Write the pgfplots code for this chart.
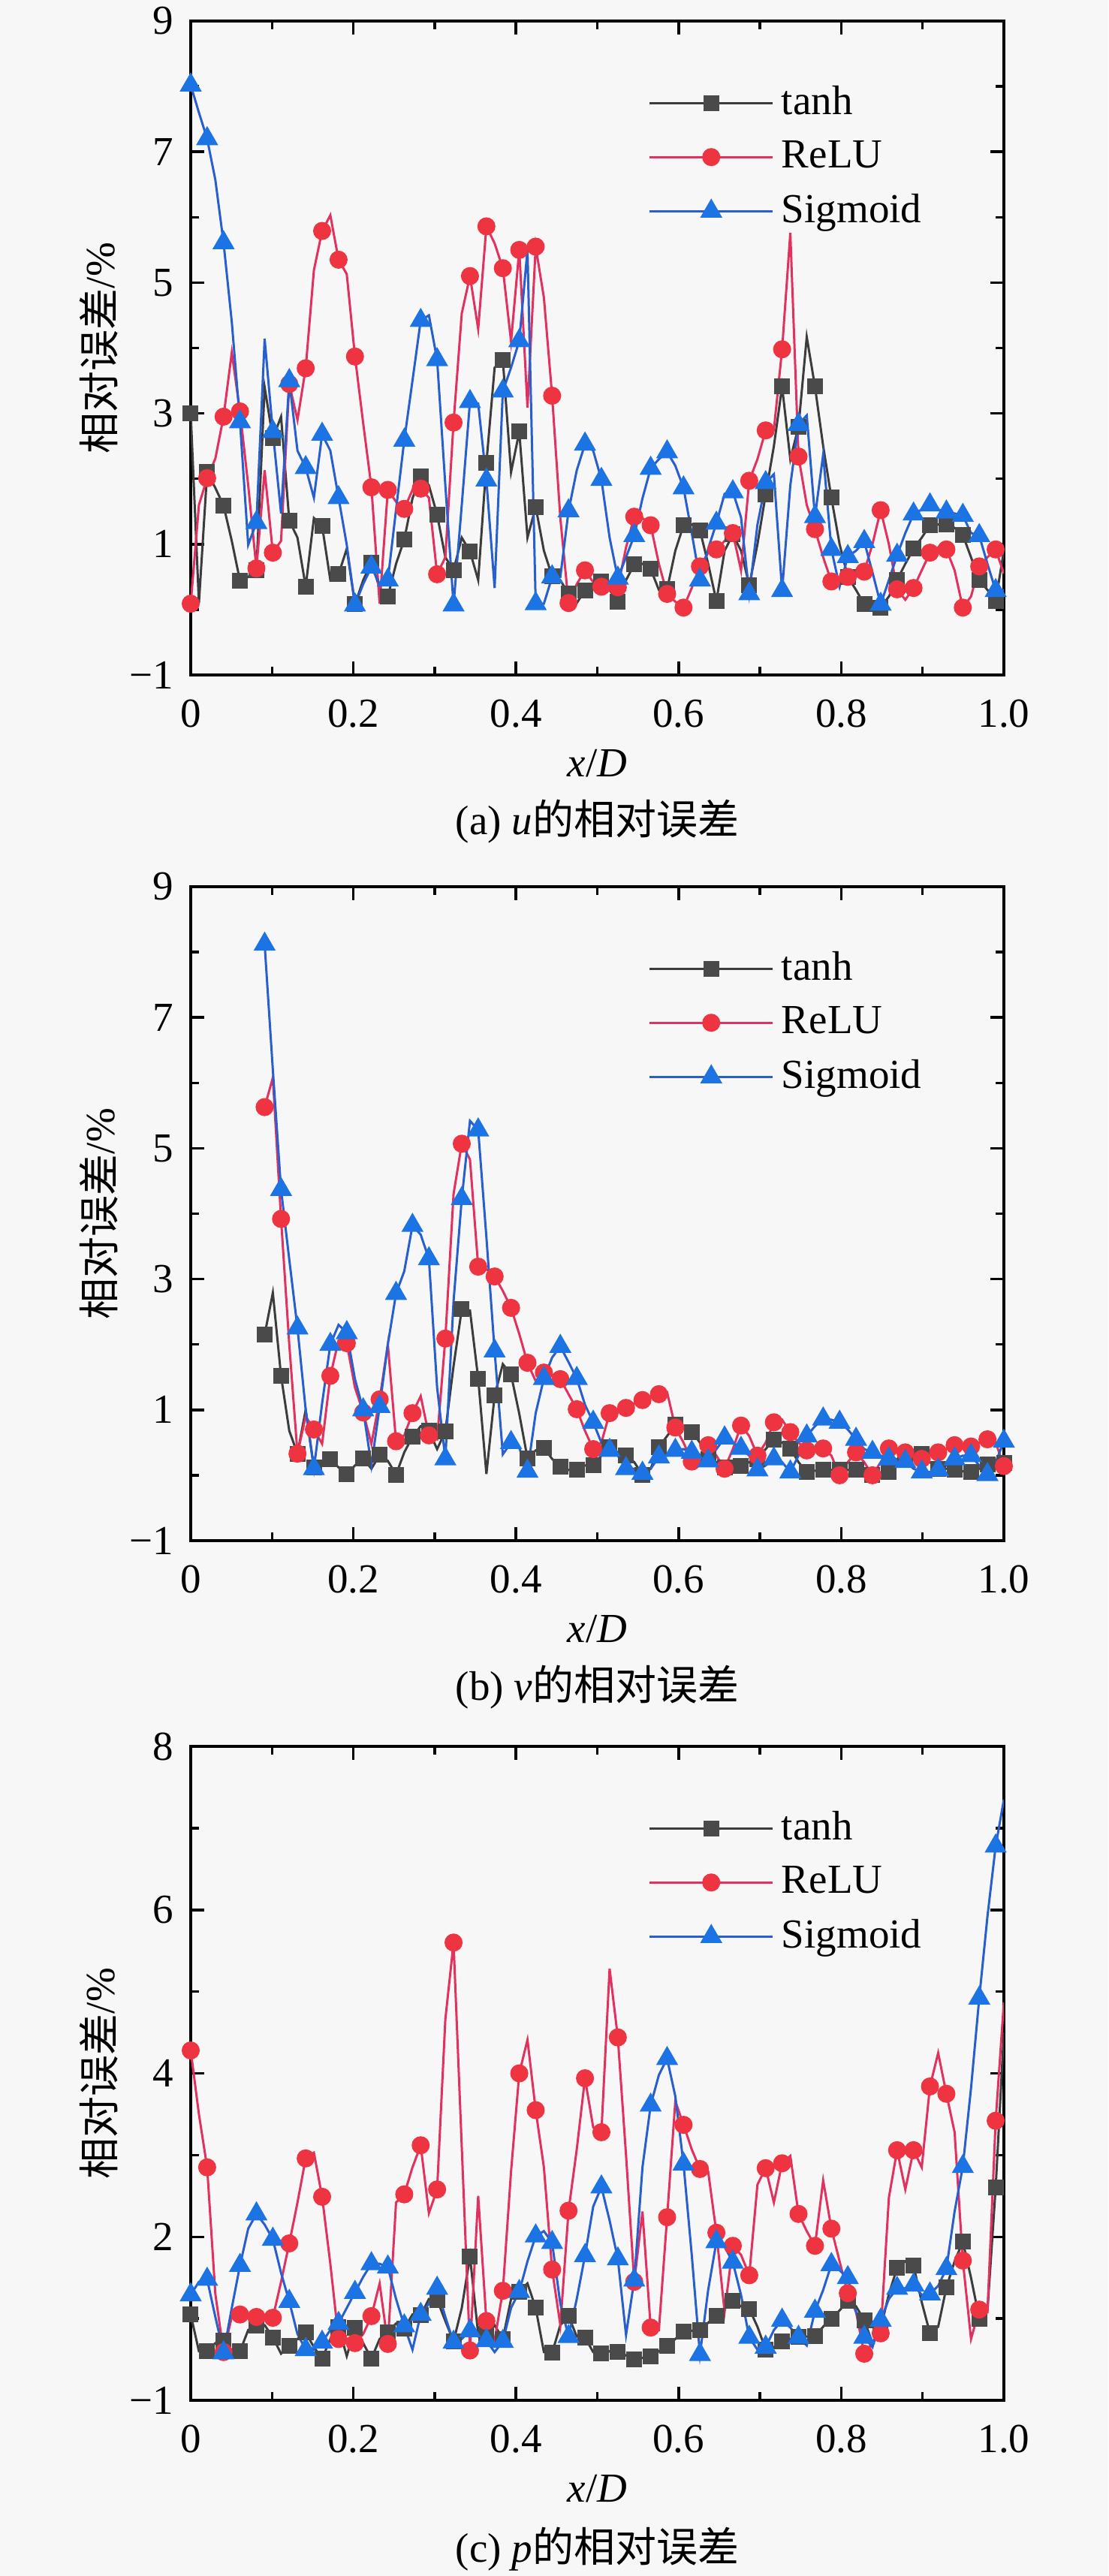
\documentclass[border=0pt]{standalone}
\usepackage{fontspec}
\setmainfont{Liberation Serif}
\newfontfamily\cjk{Noto Sans CJK SC}
\usepackage{pgfplots}
\usepackage{pgfplotstable}
\pgfplotsset{compat=1.18}

\definecolor{bg}{RGB}{247,247,247}
\definecolor{tanhc}{RGB}{60,60,60}
\definecolor{tanhm}{RGB}{74,74,74}
\definecolor{reluc}{RGB}{225,50,95}
\definecolor{relum}{RGB}{238,52,64}
\definecolor{sigc}{RGB}{40,95,205}
\definecolor{sigm}{RGB}{28,116,228}

\pgfplotstableread{
i t r s
0 3.00 0.09 8.02
1 0.10 1.60 7.60
2 2.10 2.01 7.20
3 1.86 2.31 6.57
4 1.59 2.95 5.61
5 1.05 3.93 4.40
6 0.44 3.03 2.87
7 0.50 1.90 0.99
8 0.60 0.63 1.33
9 3.40 2.13 4.14
10 2.62 0.87 2.72
11 2.95 1.05 1.47
12 1.36 3.45 3.50
13 1.10 2.90 2.43
14 0.35 3.69 2.17
15 1.40 5.19 1.71
16 1.28 5.79 2.68
17 0.45 6.03 2.43
18 0.54 5.35 1.71
19 0.93 5.13 0.99
20 0.08 3.87 0.07
21 0.45 2.85 0.39
22 0.72 1.87 0.65
23 0.33 0.09 0.39
24 0.20 1.83 0.45
25 0.70 1.65 1.53
26 1.07 1.54 2.59
27 1.70 1.83 3.50
28 2.04 1.85 4.42
29 1.90 1.71 4.50
30 1.45 0.54 3.82
31 0.80 0.80 1.90
32 0.60 2.86 0.07
33 1.10 4.53 1.60
34 0.89 5.10 3.18
35 0.45 4.29 3.15
36 2.24 5.86 1.98
37 3.70 5.60 0.33
38 3.82 5.22 3.34
39 2.10 4.10 3.70
40 2.72 5.50 4.11
41 1.10 3.09 5.50
42 1.57 5.55 0.09
43 0.90 4.77 0.09
44 0.51 3.27 0.50
45 0.45 1.40 0.50
46 0.24 0.10 1.51
47 0.10 0.39 2.13
48 0.29 0.60 2.53
49 0.35 0.42 2.43
50 0.43 0.35 1.99
51 0.30 0.33 1.10
52 0.12 0.34 0.48
53 0.45 0.95 0.80
54 0.69 1.42 1.13
55 0.70 1.40 1.70
56 0.62 1.29 2.16
57 0.30 0.70 2.30
58 0.31 0.24 2.41
59 0.90 0.12 2.20
60 1.29 0.03 1.86
61 1.30 0.33 1.17
62 1.21 0.66 0.45
63 0.70 0.87 0.93
64 0.13 0.92 1.32
65 0.90 1.05 1.77
66 1.15 1.17 1.80
67 0.90 0.60 1.41
68 0.37 1.97 0.24
69 1.00 2.30 1.30
70 1.76 2.74 1.94
71 2.50 2.75 2.07
72 3.41 3.98 0.29
73 2.30 5.76 1.90
74 2.80 2.34 2.83
75 4.17 1.60 2.97
76 3.41 1.23 1.42
77 2.50 0.80 2.37
78 1.71 0.43 0.92
79 1.00 0.40 0.35
80 0.50 0.50 0.81
81 0.30 0.50 0.90
82 0.08 0.58 1.04
83 0.05 1.00 0.57
84 0.03 1.52 0.08
85 0.20 1.00 0.45
86 0.45 0.31 0.83
87 0.70 0.15 1.17
88 0.93 0.33 1.46
89 1.10 0.60 1.53
90 1.29 0.87 1.60
91 1.30 0.95 1.53
92 1.30 0.92 1.49
93 1.25 0.60 1.47
94 1.14 0.03 1.44
95 0.80 0.20 1.17
96 0.45 0.66 1.13
97 0.30 0.80 0.70
98 0.13 0.92 0.29
99 0.90 0.55 0.30
}\tabA

\pgfplotstableread{
i t r s
9 2.15 5.63 8.12
10 2.79 6.08 6.20
11 1.52 3.92 4.37
12 0.68 2.00 3.30
13 0.33 0.33 2.25
14 1.00 0.90 1.00
15 0.12 0.70 0.10
16 0.22 0.48 1.10
17 0.25 1.52 2.00
18 0.12 2.06 2.30
19 0.02 2.02 2.18
20 0.15 1.34 1.47
21 0.26 0.96 1.00
22 0.10 0.48 0.15
23 0.31 1.16 1.05
24 0.22 2.00 2.00
25 0.01 0.52 2.78
26 0.35 0.61 3.12
27 0.59 0.95 3.82
28 0.75 1.21 3.68
29 0.68 0.61 3.31
30 0.40 0.55 1.34
31 0.67 2.09 0.25
32 1.67 4.30 2.66
33 2.54 5.07 4.23
34 2.52 4.83 5.42
35 1.48 3.19 5.28
36 0.02 3.15 3.64
37 1.22 3.04 1.90
38 1.70 2.82 0.32
39 1.54 2.56 0.50
40 0.94 2.16 0.42
41 0.26 1.72 0.06
42 0.38 1.44 0.95
43 0.42 1.57 1.48
44 0.25 1.54 1.80
45 0.13 1.47 1.97
46 0.08 1.24 1.73
47 0.09 1.01 1.48
48 0.15 0.68 1.08
49 0.15 0.40 0.81
50 0.30 0.50 0.50
51 0.43 0.95 0.38
52 0.35 1.00 0.30
53 0.30 1.03 0.10
54 0.20 1.10 0.10
55 0.01 1.15 0.03
56 0.10 1.20 0.10
57 0.43 1.24 0.28
58 0.60 1.27 0.30
59 0.77 0.73 0.38
60 0.72 0.50 0.40
61 0.66 0.21 0.35
62 0.50 0.30 0.30
63 0.25 0.46 0.22
64 0.20 0.30 0.40
65 0.12 0.10 0.57
66 0.13 0.40 0.50
67 0.14 0.76 0.41
68 0.20 0.60 0.30
69 0.25 0.30 0.08
70 0.40 0.50 0.15
71 0.55 0.81 0.25
72 0.50 0.85 0.20
73 0.41 0.66 0.05
74 0.20 0.50 0.30
75 0.05 0.38 0.60
76 0.07 0.40 0.75
77 0.08 0.41 0.86
78 0.08 0.30 0.85
79 0.08 0.00 0.81
80 0.08 0.20 0.70
81 0.08 0.35 0.55
82 0.05 0.20 0.40
83 0.01 0.00 0.35
84 0.03 0.20 0.30
85 0.05 0.41 0.25
86 0.20 0.40 0.25
87 0.30 0.35 0.21
88 0.30 0.30 0.10
89 0.33 0.25 0.05
90 0.20 0.30 0.05
91 0.10 0.35 0.08
92 0.10 0.40 0.15
93 0.08 0.46 0.25
94 0.06 0.45 0.30
95 0.05 0.44 0.30
96 0.10 0.50 0.15
97 0.16 0.55 0.01
98 0.18 0.50 0.20
99 0.19 0.14 0.52
}\tabB

\pgfplotstableread{
i t r s
0 1.05 4.28 1.29
1 0.60 3.50 1.45
2 0.60 2.85 1.48
3 0.70 1.30 1.02
4 0.73 0.59 0.58
5 0.60 1.02 1.13
6 0.60 1.05 1.65
7 0.86 1.02 2.10
8 0.91 1.02 2.28
9 0.92 1.00 2.15
10 0.77 1.01 1.97
11 0.57 1.45 1.56
12 0.67 1.92 1.21
13 0.75 2.42 0.81
14 0.83 2.96 0.62
15 0.65 3.03 0.62
16 0.51 2.49 0.71
17 0.75 1.67 0.86
18 0.90 0.75 0.94
19 0.54 0.73 1.13
20 0.89 0.70 1.32
21 0.70 0.81 1.51
22 0.51 1.03 1.67
23 0.75 1.43 1.67
24 0.83 0.69 1.63
25 0.94 2.42 1.24
26 0.88 2.52 0.91
27 1.05 2.85 0.62
28 1.04 3.12 1.05
29 1.24 2.29 1.18
30 1.23 2.58 1.37
31 0.97 4.66 1.02
32 0.72 5.60 0.71
33 1.13 3.10 0.75
34 1.76 0.61 0.85
35 0.81 2.50 0.78
36 0.81 0.97 0.73
37 0.92 0.73 0.59
38 0.75 1.34 0.72
39 1.24 2.80 1.13
40 1.33 4.00 1.33
41 1.43 4.41 1.70
42 1.13 3.55 2.01
43 0.59 2.85 2.07
44 0.58 1.60 1.93
45 0.92 0.92 1.18
46 1.03 2.32 0.78
47 0.78 3.07 1.24
48 0.77 3.94 1.77
49 0.59 3.34 2.37
50 0.57 3.28 2.61
51 0.60 5.28 2.20
52 0.59 4.44 1.73
53 0.55 3.00 0.80
54 0.50 1.45 1.47
55 0.52 2.31 2.85
56 0.54 0.89 3.61
57 0.60 0.86 3.98
58 0.67 2.24 4.18
59 0.75 3.66 3.72
60 0.84 3.37 2.89
61 0.85 3.07 1.78
62 0.86 2.83 0.56
63 0.95 2.80 1.35
64 1.03 2.05 1.94
65 1.12 1.08 1.88
66 1.22 1.89 1.69
67 1.15 1.78 1.29
68 1.12 1.53 0.77
69 0.90 2.64 0.62
70 0.62 2.84 0.65
71 0.65 2.42 0.86
72 0.72 2.90 0.98
73 0.75 2.99 0.89
74 0.78 2.28 0.77
75 0.78 2.07 0.67
76 0.79 1.89 1.09
77 0.90 2.69 1.35
78 1.00 2.10 1.66
79 1.10 1.70 1.59
80 1.22 1.31 1.50
81 1.15 1.08 1.08
82 0.98 0.57 0.77
83 0.70 0.70 0.65
84 0.88 0.82 0.98
85 1.30 2.48 1.24
86 1.62 3.06 1.37
87 1.70 2.58 1.37
88 1.65 3.06 1.41
89 1.20 2.85 1.29
90 0.82 3.84 1.30
91 0.90 4.25 1.40
92 1.38 3.75 1.61
93 1.70 3.28 2.31
94 1.94 1.71 2.86
95 1.50 0.75 3.82
96 1.00 1.11 4.92
97 1.10 1.08 5.92
98 2.60 3.42 6.78
99 4.50 4.87 7.35
}\tabC

\pgfplotsset{
  panel/.style={
    scale only axis, width=216.6pt, height=174.2pt,
    xmin=0, xmax=1,
    xtick={0,0.2,0.4,0.6,0.8,1},
    xticklabels={0,0.2,0.4,0.6,0.8,1.0},
    minor xtick={0.1,0.3,0.5,0.7,0.9},
    tick align=inside,
    major tick length=3.6pt, minor tick length=2.2pt,
    axis line style={line width=0.9pt},
    every tick/.style={line width=0.7pt, black},
    tick label style={font=\fontsize{11}{13}\selectfont},
    xticklabel style={yshift=-3pt},
    yticklabel style={xshift=-1pt},
    legend style={draw=none, fill=none, at={(axis description cs:0.548,0.925)},
      anchor=north west, font=\fontsize{11}{13}\selectfont, row sep=1.5pt},
    legend cell align=left,
    legend image code/.code={\draw[mark repeat=2,mark phase=2,##1] plot coordinates {(0pt,0pt) (16.45pt,0pt) (32.9pt,0pt)};},
  },
  abaxis/.style={ymin=-1, ymax=9, ytick={-1,1,3,5,7,9},
    yticklabels={−1,1,3,5,7,9}, minor ytick={0,2,4,6,8}},
  tanhs/.style={color=tanhc, line width=0.6pt, mark=square*, mark size=1.8pt,
    mark options={fill=tanhm, draw=tanhm, solid}, mark repeat=2},
  relus/.style={color=reluc, line width=0.6pt, mark=*, mark size=2.1pt,
    mark options={fill=relum, draw=relum, solid}, mark repeat=2},
  sigs/.style={color=sigc, line width=0.6pt, mark=triangle*, mark size=2.8pt,
    mark options={fill=sigm, draw=sigm, solid}, mark repeat=2},
}

\begin{document}
\begin{tikzpicture}
\path[use as bounding box, fill=bg] (0,0) rectangle (295.2pt,-686.2pt);

% ---------- (a) ----------
\begin{axis}[panel, abaxis, name=pa, at={(50.8pt,-5.6pt)}, anchor=north west]
\addplot[tanhs] table[x expr=\thisrow{i}/99, y=t] {\tabA};
\addplot[relus] table[x expr=\thisrow{i}/99, y=r] {\tabA};
\addplot[sigs] table[x expr=\thisrow{i}/99, y=s] {\tabA};
\legend{tanh, ReLU, Sigmoid}
\end{axis}
\node[font=\fontsize{11}{13}\selectfont] at ([yshift=-23.5pt]pa.south) {\textit{x}/\textit{D}};
\node[font=\fontsize{11}{13}\selectfont] at ([yshift=-39pt]pa.south) {(a) \textit{u}{\cjk 的相对误差}};
\node[rotate=90, font=\fontsize{11}{13}\selectfont] at ([xshift=-24.4pt]pa.west) {{\cjk 相对误差}/\%};

% ---------- (b) ----------
\begin{axis}[panel, abaxis, name=pb, at={(50.8pt,-236.2pt)}, anchor=north west]
\addplot[tanhs] table[x expr=\thisrow{i}/99, y=t] {\tabB};
\addplot[relus] table[x expr=\thisrow{i}/99, y=r] {\tabB};
\addplot[sigs] table[x expr=\thisrow{i}/99, y=s] {\tabB};
\legend{tanh, ReLU, Sigmoid}
\end{axis}
\node[font=\fontsize{11}{13}\selectfont] at ([yshift=-23.5pt]pb.south) {\textit{x}/\textit{D}};
\node[font=\fontsize{11}{13}\selectfont] at ([yshift=-39pt]pb.south) {(b) \textit{v}{\cjk 的相对误差}};
\node[rotate=90, font=\fontsize{11}{13}\selectfont] at ([xshift=-24.4pt]pb.west) {{\cjk 相对误差}/\%};

% ---------- (c) ----------
\begin{axis}[panel, name=pc, at={(50.8pt,-465.2pt)}, anchor=north west,
  ymin=0, ymax=8, ytick={0,2,4,6,8}, yticklabels={−1,2,4,6,8}, minor ytick={1,3,5,7}]
\addplot[tanhs] table[x expr=\thisrow{i}/99, y=t] {\tabC};
\addplot[relus] table[x expr=\thisrow{i}/99, y=r] {\tabC};
\addplot[sigs] table[x expr=\thisrow{i}/99, y=s] {\tabC};
\legend{tanh, ReLU, Sigmoid}
\end{axis}
\node[font=\fontsize{11}{13}\selectfont] at ([yshift=-23.5pt]pc.south) {\textit{x}/\textit{D}};
\node[font=\fontsize{11}{13}\selectfont] at ([yshift=-39.6pt]pc.south) {(c) \textit{p}{\cjk 的相对误差}};
\node[rotate=90, font=\fontsize{11}{13}\selectfont] at ([xshift=-24.4pt]pc.west) {{\cjk 相对误差}/\%};
\end{tikzpicture}
\end{document}
